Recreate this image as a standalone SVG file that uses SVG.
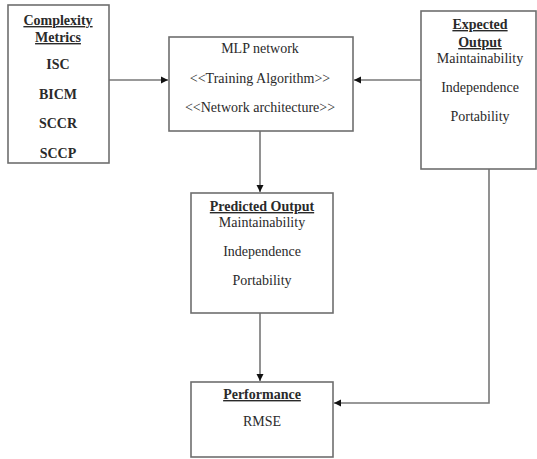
<svg xmlns="http://www.w3.org/2000/svg" width="537" height="459" viewBox="0 0 537 459">
<style>
.box{fill:#fff;stroke:#6e6e6e;stroke-width:1.6}
.t{font-family:"Liberation Serif","Times New Roman",serif;font-size:14px;fill:#2a2a2a;text-anchor:middle}
.b{font-weight:bold}
.h{font-weight:bold;text-decoration:underline}
.c{fill:none;stroke:#777;stroke-width:1.6}
</style>
<defs>
<marker id="arr" markerWidth="8" markerHeight="8" refX="7" refY="4" orient="auto" markerUnits="userSpaceOnUse">
<path d="M0,0.5 L7,4 L0,7.5 Z" fill="#111"/>
</marker>
</defs>
<rect width="537" height="459" fill="#fff"/>
<g id="connectors">
<line class="c" x1="109" y1="80" x2="168" y2="80" marker-end="url(#arr)"/>
<line class="c" x1="421" y1="80" x2="354" y2="80" marker-end="url(#arr)"/>
<line class="c" x1="260" y1="131" x2="260" y2="192" marker-end="url(#arr)"/>
<line class="c" x1="260" y1="313" x2="260" y2="381" marker-end="url(#arr)"/>
<polyline class="c" points="489,169 489,403 334,403" marker-end="url(#arr)"/>
</g>
<g id="complexity">
<rect class="box" x="8" y="5" width="101" height="158"/>
<text class="t h" x="58" y="25">Complexity</text>
<text class="t h" x="58" y="42">Metrics</text>
<text class="t b" x="58" y="69">ISC</text>
<text class="t b" x="58" y="99">BICM</text>
<text class="t b" x="58" y="128">SCCR</text>
<text class="t b" x="58" y="158">SCCP</text>
</g>
<g id="mlp">
<rect class="box" x="169" y="37" width="184" height="94"/>
<text class="t" x="260" y="53">MLP network</text>
<text class="t" x="260" y="83">&lt;&lt;Training Algorithm&gt;&gt;</text>
<text class="t" x="260" y="112">&lt;&lt;Network architecture&gt;&gt;</text>
</g>
<g id="expected">
<rect class="box" x="421" y="11" width="115" height="158"/>
<text class="t h" x="480" y="29">Expected</text>
<text class="t h" x="480" y="47">Output</text>
<text class="t" x="480" y="63">Maintainability</text>
<text class="t" x="480" y="92">Independence</text>
<text class="t" x="480" y="121">Portability</text>
</g>
<g id="predicted">
<rect class="box" x="191" y="193" width="142" height="120"/>
<text class="t h" x="262" y="211">Predicted Output</text>
<text class="t" x="262" y="227">Maintainability</text>
<text class="t" x="262" y="256">Independence</text>
<text class="t" x="262" y="285">Portability</text>
</g>
<g id="performance">
<rect class="box" x="191" y="382" width="142" height="75"/>
<text class="t h" x="262" y="399">Performance</text>
<text class="t" x="262" y="426">RMSE</text>
</g>
</svg>
